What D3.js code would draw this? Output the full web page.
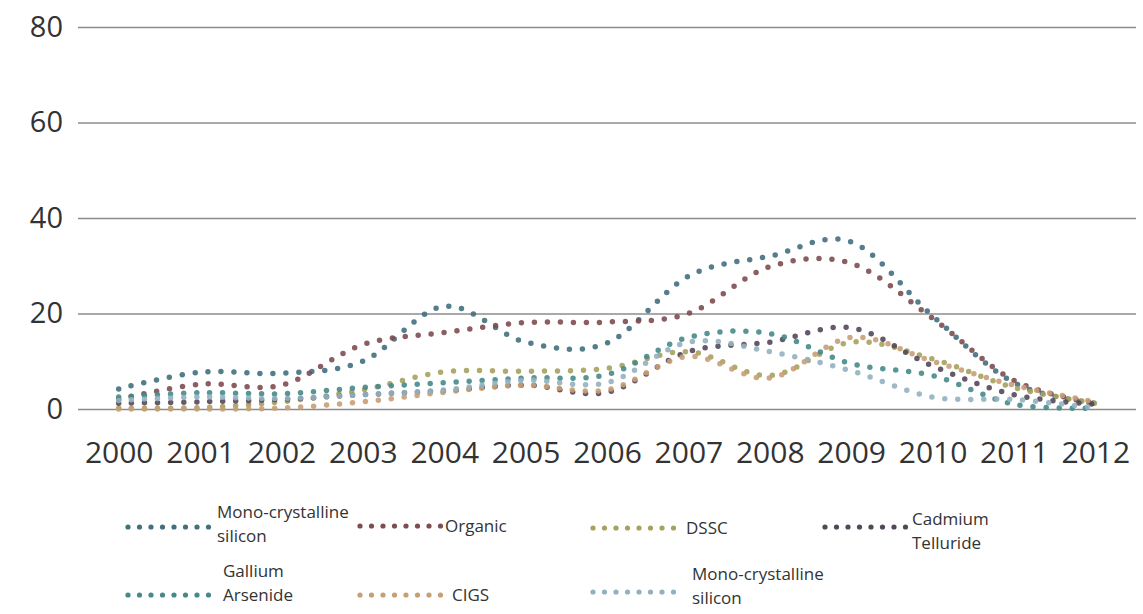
<!DOCTYPE html>
<html>
<head>
<meta charset="utf-8">
<script src="https://cdn.jsdelivr.net/npm/d3@7"></script>
<style>
  html, body { margin: 0; padding: 0; background: #fff; }
  svg { display: block; }
</style>
</head>
<body>
<svg id="chart" width="1143" height="614"></svg>
<script>
// ---- data ----
const years = ["2000","2001","2002","2003","2004","2005","2006","2007","2008","2009","2010","2011","2012"];
const yTicks = [0, 20, 40, 60, 80];

const monoSilicon      = [4.2, 7.7, 7.5, 10, 21.5, 14, 13.8, 27.8, 32, 35, 19.5, 5.5, 1.2];
const organic          = [2, 5.2, 5, 13.5, 16, 18.1, 18.2, 20, 29.8, 30.5, 19, 6, 1.2];
const dssc             = [0.2, 0.3, 1.5, 4, 7.8, 7.9, 8.5, 12, 7, 14, 10.5, 4.5, 1.2];
const cadmiumTelluride = [1.2, 1.5, 2, 3, 3.8, 5, 3.5, 12, 14, 17, 9, 3, 1];
const galliumArsenide  = [2.5, 3.4, 3.2, 4.5, 5.5, 6.5, 7.2, 15, 15.8, 9.5, 7, 1, 0.2];
const cigs             = [0, 0, 0.2, 1.5, 3.5, 5, 4, 11, 6.5, 15, 10, 5, 1.5];
const monoSilicon2     = [1.8, 2.5, 2.2, 3, 4, 6, 5.5, 14, 12, 8, 2.5, 2, 0.2];

const seriesNames  = ["Mono-crystalline silicon", "Organic", "DSSC", "Cadmium Telluride", "Gallium Arsenide", "CIGS", "Mono-crystalline silicon"];
const seriesLabels = [["Mono-crystalline","silicon"], ["Organic"], ["DSSC"], ["Cadmium","Telluride"], ["Gallium","Arsenide"], ["CIGS"], ["Mono-crystalline","silicon"]];
const seriesValues = [monoSilicon, organic, dssc, cadmiumTelluride, galliumArsenide, cigs, monoSilicon2];
const seriesColors = ["#41707f", "#7e4d50", "#a6a25e", "#54475a", "#46898a", "#c89e74", "#92b1c0"];

// ---- layout ----
const svg = d3.select("#chart");
const plotLeft = 78, plotRight = 1136, plotTop = 27, plotBottom = 409;
const font = "'Open Sans', 'DejaVu Sans', sans-serif";

const x = d3.scalePoint().domain(years).range([plotLeft, plotRight]).padding(0.5);
const y = d3.scaleLinear().domain([0, 80]).range([plotBottom, plotTop]);

// gridlines
const yAxis = d3.axisLeft(y).tickValues(yTicks).tickSize(-(plotRight - plotLeft)).tickPadding(15);
const gy = svg.append("g").attr("transform", `translate(${plotLeft},0)`).call(yAxis);
gy.select(".domain").remove();
gy.selectAll(".tick line").attr("stroke", "#8c8c8c").attr("stroke-width", 1.6);
gy.selectAll(".tick text").attr("fill", "#333").style("font-family", font).style("font-size", "29px");

// x axis labels
const xAxis = d3.axisBottom(x).tickSize(0).tickPadding(33);
const gx = svg.append("g").attr("transform", `translate(0,${plotBottom})`).call(xAxis);
gx.select(".domain").remove();
gx.selectAll(".tick text").attr("fill", "#333").style("font-family", font).style("font-size", "30px");

// lines (smoothed, round dotted)
const line = d3.line()
  .x((d, i) => x(years[i]))
  .y(d => y(d))
  .curve(d3.curveCardinal.tension(0));

seriesValues.forEach((vals, i) => {
  svg.append("path")
    .datum(vals)
    .attr("d", line)
    .attr("fill", "none")
    .attr("stroke", seriesColors[i])
    .attr("stroke-width", 5.5)
    .attr("stroke-linecap", "round")
    .attr("stroke-dasharray", "0,13")
    .attr("opacity", 0.9);
});

// legend
const legendPos = [
  {x: 128, y: 527, tx: 217, ty: [512, 536]},
  {x: 360, y: 526, tx: 445, ty: [526]},
  {x: 593, y: 528, tx: 686, ty: [528]},
  {x: 825, y: 527, tx: 912, ty: [519, 543]},
  {x: 128, y: 595, tx: 223, ty: [571, 595]},
  {x: 360, y: 595, tx: 452, ty: [595]},
  {x: 593, y: 592, tx: 692, ty: [574, 598]}
];
const legend = svg.append("g");
seriesNames.forEach((name, i) => {
  const p = legendPos[i];
  const g = legend.append("g");
  d3.range(8).forEach(k => {
    g.append("circle")
      .attr("cx", p.x + k * 11.5)
      .attr("cy", p.y)
      .attr("r", 2.6)
      .attr("fill", seriesColors[i]);
  });
  seriesLabels[i].forEach((t, j) => {
    g.append("text")
      .attr("x", p.tx)
      .attr("y", p.ty[j])
      .attr("dy", "0.35em")
      .attr("fill", "#333")
      .style("font-family", font)
      .style("font-size", "17px")
      .text(t);
  });
});
</script>
</body>
</html>
